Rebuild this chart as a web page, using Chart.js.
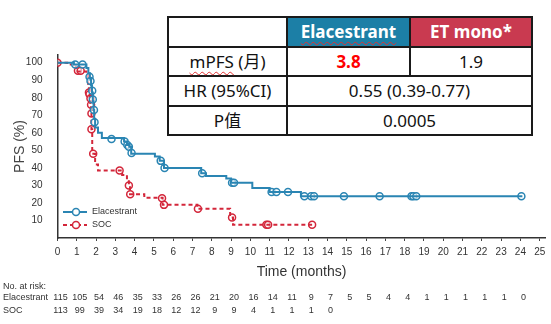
<!DOCTYPE html>
<html>
<head>
<meta charset="utf-8">
<script src="https://cdn.jsdelivr.net/npm/chart.js@4.4.1/dist/chart.umd.min.js"></script>
<style>
    html, body { margin: 0; padding: 0; background: #fff; }
    #wrap { position: relative; width: 551px; height: 324px; }
    #pfsChart { position: absolute; left: 0; top: 0; }
    table.sum {
        position: absolute; left: 167px; top: 16px; width: 366px; height: 120px;
        border-collapse: collapse; background: #fff; color: #111;
        font-family: "Noto Sans", "Noto Sans CJK SC", sans-serif; font-size: 17px;
    }
    table.sum td { border: 2px solid #1a1a1a; text-align: center; padding: 0; line-height: 1; }
    table.sum td.c1 { width: 117px; }
    table.sum td.c2 { width: 121px; }
    .hd { color: #fff; font-weight: bold; }
    .hd-b { background: #1c7fa6; }
    .hd-r { background: #c93a50; }
    .squig { text-decoration: underline wavy #e03030; text-decoration-thickness: 1px; text-underline-offset: 3px; }
    .red { color: #ff0000; font-weight: bold; }
</style>
</head>
<body>
<div id="wrap">
    <canvas id="pfsChart" width="551" height="324"></canvas>
    <table class="sum">
        <tr><td class="c1"></td><td class="c2 hd hd-b"><span class="squig">Elacestrant</span></td><td class="hd hd-r">ET mono*</td></tr>
        <tr><td class="c1"><span class="squig">mPFS</span> (月)</td><td class="c2 red">3.8</td><td>1.9</td></tr>
        <tr><td class="c1">HR (95%CI)</td><td colspan="2">0.55 (0.39-0.77)</td></tr>
        <tr><td class="c1">P值</td><td colspan="2">0.0005</td></tr>
    </table>
</div>

<script>
    // Elacestrant KM 曲線 (月, PFS %)
    const elaTime = [0, 0.85, 1.5, 1.6, 1.68, 1.74, 1.79, 1.83, 1.87, 1.9, 1.95, 2.1, 2.3, 3.45, 3.6, 3.72, 3.82, 5.05, 5.3, 5.52, 7.45, 7.7, 8.75, 9.0, 10.1, 11.0, 12.62, 24.1];
    const elaPfs  = [100, 99, 97, 94, 91, 87, 83, 78, 73, 68, 63, 60, 57, 55, 53, 52, 48, 46.5, 44, 40, 37, 35.3, 34, 31.5, 28.5, 26.3, 23.8, 23.8];
    const elaCensTime = [0.92, 1.3, 1.66, 1.71, 1.8, 1.83, 1.89, 1.92, 2.8, 3.48, 3.62, 3.7, 3.84, 5.35, 5.55, 7.5, 9.05, 9.15, 11.1, 11.35, 11.95, 12.8, 13.15, 13.3, 14.85, 16.7, 18.35, 18.45, 18.6, 24.05];
    const elaCensPfs  = [99, 99, 92, 89.5, 84, 79, 73, 66, 56.5, 55, 53, 52, 48.5, 44, 40, 37, 31.5, 31.5, 26.3, 26.3, 26.3, 23.8, 23.8, 23.8, 23.8, 23.8, 23.8, 23.8, 23.8, 23.8];

    // SOC KM 曲線
    const socTime = [0, 0.5, 0.95, 1.05, 1.5, 1.58, 1.63, 1.67, 1.7, 1.73, 1.76, 1.8, 1.95, 2.1, 3.35, 3.6, 3.7, 3.76, 4.5, 5.45, 7.25, 8.95, 9.1, 13.2];
    const socPfs  = [100, 99, 97, 95, 93, 88, 84, 81, 77, 72, 62, 48, 42, 38.5, 36, 33, 30, 25, 23, 19, 16.7, 11.7, 7.5, 7.5];
    const socCensTime = [0, 1.06, 1.2, 1.63, 1.66, 1.71, 1.74, 1.76, 1.76, 1.85, 3.22, 3.7, 3.77, 5.42, 5.52, 7.28, 9.05, 10.83, 10.92, 13.2];
    const socCensPfs  = [100, 95.4, 95.4, 83, 82, 79.6, 76, 71, 62, 48, 38.5, 30, 25, 22.7, 18.9, 16.7, 11.7, 7.5, 7.5, 7.5];

    // 軸刻度
    const xTicks = [0, 1, 2, 3, 4, 5, 6, 7, 8, 9, 10, 11, 12, 13, 14, 15, 16, 17, 18, 19, 20, 21, 22, 23, 24, 25];
    const yTicks = [10, 20, 30, 40, 50, 60, 70, 80, 90, 100];

    // No. at risk
    const riskLabels = ['Elacestrant', 'SOC'];
    const elaRisk = [115, 105, 54, 46, 35, 33, 26, 26, 21, 20, 16, 14, 11, 9, 7, 5, 5, 4, 4, 1, 1, 1, 1, 1, 0];
    const socRisk = [113, 99, 39, 34, 19, 18, 12, 12, 9, 9, 4, 1, 1, 1, 0];

    const blue = '#2a85b3';
    const red = '#d3263a';
    const sans = '"Liberation Sans", Arial, sans-serif';
    const tickFont = { family: sans, size: 10 };

    function pts(xs, ys) {
        return xs.map((x, i) => ({ x: x, y: ys[i] }));
    }

    // 圖例 + 風險人數表
    const extras = {
        id: 'extras',
        afterDraw(chart) {
            const ctx = chart.ctx;
            const xs = chart.scales.x;
            ctx.save();
            // legend
            const legendItems = [chart.data.datasets[0], chart.data.datasets[2]];
            legendItems.forEach((ds, i) => {
                const y = 212 + i * 13;
                ctx.strokeStyle = ds.borderColor;
                ctx.lineWidth = 2;
                ctx.setLineDash(ds.borderDash || []);
                ctx.beginPath();
                ctx.moveTo(63, y);
                ctx.lineTo(87, y);
                ctx.stroke();
                ctx.setLineDash([]);
                ctx.fillStyle = '#fff';
                ctx.lineWidth = 1.5;
                ctx.beginPath();
                ctx.arc(76, y, 3.5, 0, Math.PI * 2);
                ctx.fill();
                ctx.stroke();
                ctx.fillStyle = '#333';
                ctx.font = '9px ' + sans;
                ctx.textAlign = 'left';
                ctx.textBaseline = 'middle';
                ctx.fillText(ds.label, 92, y);
            });
            // risk table
            ctx.font = '9px ' + sans;
            ctx.fillStyle = '#333';
            ctx.textBaseline = 'middle';
            ctx.textAlign = 'left';
            ctx.fillText('No. at risk:', 3, 287);
            ctx.fillText(riskLabels[0], 3, 298);
            ctx.fillText(riskLabels[1], 3, 311);
            ctx.textAlign = 'center';
            elaRisk.forEach((n, i) => ctx.fillText(String(n), xs.getPixelForValue(i) + 3, 298));
            socRisk.forEach((n, i) => ctx.fillText(String(n), xs.getPixelForValue(i) + 3, 311));
            ctx.restore();
        }
    };

    new Chart(document.getElementById('pfsChart'), {
        type: 'line',
        data: {
            datasets: [
                {
                    label: 'Elacestrant',
                    data: pts(elaTime, elaPfs),
                    borderColor: blue,
                    borderWidth: 2,
                    stepped: 'before',
                    pointRadius: 0,
                    fill: false
                },
                {
                    label: 'Elacestrant censored',
                    data: pts(elaCensTime, elaCensPfs),
                    showLine: false,
                    borderColor: blue,
                    backgroundColor: 'rgba(255,255,255,0.6)',
                    pointRadius: 3.5,
                    pointBorderWidth: 1.5
                },
                {
                    label: 'SOC',
                    data: pts(socTime, socPfs),
                    borderColor: red,
                    borderWidth: 2,
                    borderDash: [4, 3],
                    stepped: 'before',
                    pointRadius: 0,
                    fill: false
                },
                {
                    label: 'SOC censored',
                    data: pts(socCensTime, socCensPfs),
                    showLine: false,
                    borderColor: red,
                    backgroundColor: 'rgba(255,255,255,0.6)',
                    pointRadius: 3.5,
                    pointBorderWidth: 1.5
                }
            ]
        },
        options: {
            responsive: false,
            animation: false,
            layout: { padding: { top: 55, right: 5, left: 0, bottom: 0 } },
            plugins: { legend: { display: false }, tooltip: { enabled: false } },
            scales: {
                x: {
                    type: 'linear',
                    min: 0,
                    max: 25.3,
                    afterFit(s) { s.height = 86; },
                    afterBuildTicks(s) { s.ticks = xTicks.map(v => ({ value: v })); },
                    ticks: { color: '#333', font: tickFont, padding: 5, maxRotation: 0, autoSkip: false },
                    grid: { display: true, drawOnChartArea: false, drawTicks: true, tickLength: 3, color: '#444' },
                    border: { display: true, color: '#333', width: 1.5 },
                    title: { display: true, text: 'Time (months)', color: '#333', font: { family: sans, size: 14 }, padding: { top: 4, bottom: 43 } }
                },
                y: {
                    min: 0,
                    max: 104.4,
                    afterFit(s) { s.width = 57.5; },
                    afterBuildTicks(s) { s.ticks = yTicks.map(v => ({ value: v })); },
                    ticks: { color: '#333', font: tickFont, padding: 7, autoSkip: false },
                    grid: { display: false },
                    border: { display: true, color: '#333', width: 1.5 },
                    title: { display: true, text: 'PFS (%)', color: '#444', font: { family: sans, size: 14 }, padding: { top: 12 } }
                }
            }
        },
        plugins: [extras]
    });
</script>
</body>
</html>
